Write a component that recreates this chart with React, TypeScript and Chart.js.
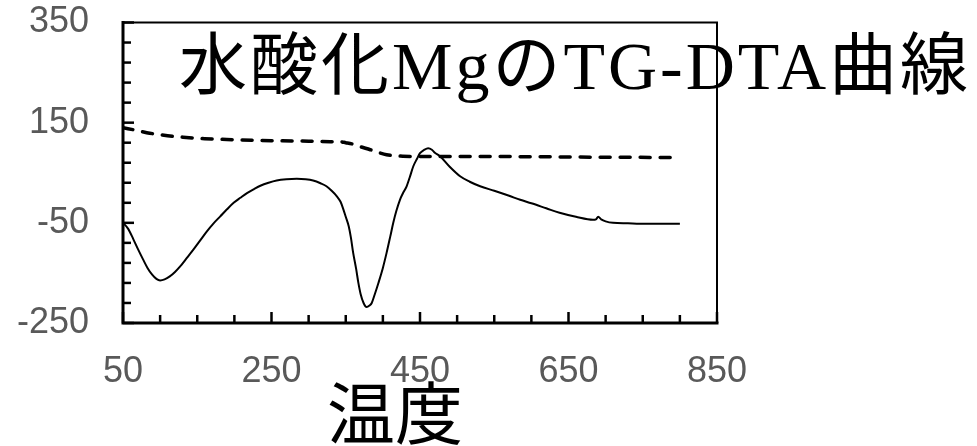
import React, { useEffect, useRef } from 'react';
import { Chart, registerables } from 'chart.js';

Chart.register(...registerables);

const chartTitle = '水酸化MgのTG-DTA曲線';
const xAxisTitle = '温度';
const xTickLabels = [50, 250, 450, 650, 850];
const yTickLabels = [-250, -50, 150, 350];

// DTA (solid line)
const dtaTemps = [50, 57, 64, 70, 77, 83, 89, 95, 100, 106, 113, 120, 127, 136, 145, 154, 163, 172, 181, 190, 199, 208, 217, 226, 235, 246, 257, 270, 284, 296, 306, 316, 324, 331, 338, 343, 347, 350, 354, 357, 360, 364, 367, 370, 374, 378, 382, 385, 389, 394, 400, 405, 410, 414, 418, 423, 427, 432, 436, 441, 446, 450, 456, 461, 466, 470, 477, 490, 504, 517, 531, 550, 570, 585, 600, 620, 638, 660, 683, 687, 690, 694, 700, 710, 730, 746, 770, 800];
const dtaValues = [-50, -62, -83, -102, -123, -140, -153, -162, -165, -163, -157, -148, -137, -120, -103, -85, -67, -51, -37, -23, -10, 0, 9.5, 17, 24, 30, 34.5, 37, 38, 37, 34.5, 29, 23, 14, 3, -8, -24, -38, -57, -80, -110, -142, -170, -192, -210, -218, -215, -210, -193, -170, -140, -110, -77, -50, -27, -4, 9, 23, 40, 63, 78, 89, 96, 99, 96, 90, 83, 62, 43, 32, 23, 14, 4, -4, -11, -21, -30, -38, -44, -43, -38, -43, -47, -50, -51, -52, -52, -52];

// TG (dashed line)
const tgTemps = [50, 70, 86, 110, 131, 160, 199, 250, 300, 329, 342, 350, 360, 370, 383, 395, 405, 415, 427, 450, 500, 550, 600, 700, 800];
const tgValues = [140, 134, 129, 124, 121, 118, 116, 114, 113, 112, 112, 110, 107, 102, 96, 90, 86, 84, 83, 82.5, 82.5, 82.5, 82, 81, 80.5];

const framePlugin = {
  id: 'frameAndTitles',
  afterDraw(chart: any) {
    const { ctx, chartArea: a, scales } = chart;
    const xs = scales.x;
    const ys = scales.y;
    ctx.save();
    ctx.strokeStyle = '#000';
    ctx.lineWidth = 2.5;
    for (let v = xs.min; v <= xs.max; v += 50) {
      const px = xs.getPixelForValue(v);
      const len = xTickLabels.includes(v) ? 11 : 8;
      ctx.beginPath();
      ctx.moveTo(px, a.bottom);
      ctx.lineTo(px, a.bottom - len);
      ctx.stroke();
    }
    for (let v = ys.min; v <= ys.max; v += 40) {
      const py = ys.getPixelForValue(v);
      const len = yTickLabels.includes(v) ? 11 : 8;
      ctx.beginPath();
      ctx.moveTo(a.left, py);
      ctx.lineTo(a.left + len, py);
      ctx.stroke();
    }
    // frame: top/right thinner, left/bottom heavier
    ctx.lineCap = 'square';
    ctx.lineWidth = 2;
    ctx.beginPath();
    ctx.moveTo(a.left, a.top);
    ctx.lineTo(a.right, a.top);
    ctx.lineTo(a.right, a.bottom);
    ctx.stroke();
    ctx.lineWidth = 3;
    ctx.beginPath();
    ctx.moveTo(a.left, a.top);
    ctx.lineTo(a.left, a.bottom);
    ctx.lineTo(a.right, a.bottom);
    ctx.stroke();

    ctx.fillStyle = '#000';
    ctx.textAlign = 'center';
    ctx.textBaseline = 'alphabetic';
    ctx.font = '68px "Liberation Serif", "Noto Sans CJK JP"';
    try { (ctx as any).letterSpacing = '3px'; } catch (e) {}
    ctx.fillText(chartTitle, 575, 89);
    try { (ctx as any).letterSpacing = '0px'; } catch (e) {}
    ctx.font = '68px "Noto Sans CJK JP"';
    ctx.fillText(xAxisTitle, 395, 439);
    ctx.restore();
  },
};

export default function App() {
  const canvasRef = useRef<HTMLCanvasElement | null>(null);

  useEffect(() => {
    if (!canvasRef.current) return;
    const tickFont = { family: '"Liberation Sans", Arial, sans-serif', size: 36 };
    const chart = new Chart(canvasRef.current, {
      type: 'line',
      data: {
        datasets: [
          {
            label: 'DTA',
            data: dtaTemps.map((t, i) => ({ x: t, y: dtaValues[i] })),
            borderColor: '#000',
            borderWidth: 2,
            pointRadius: 0,
            fill: false,
            cubicInterpolationMode: 'monotone',
          },
          {
            label: 'TG',
            data: tgTemps.map((t, i) => ({ x: t, y: tgValues[i] })),
            borderColor: '#000',
            borderWidth: 3.5,
            borderDash: [10, 10],
            borderCapStyle: 'round',
            pointRadius: 0,
            fill: false,
            cubicInterpolationMode: 'monotone',
          },
        ],
      },
      options: {
        animation: false,
        responsive: false,
        devicePixelRatio: 1,
        layout: { padding: { left: 17, right: 260, top: 22.5, bottom: 57 } },
        plugins: {
          legend: { display: false },
          tooltip: { enabled: false },
          title: { display: false },
        },
        scales: {
          x: {
            type: 'linear',
            min: 50,
            max: 850,
            grid: { display: false, drawTicks: false },
            border: { display: false },
            afterBuildTicks: (scale: any) => {
              scale.ticks = xTickLabels.map((v) => ({ value: v }));
            },
            afterFit: (scale: any) => {
              scale.height = 66;
              scale.paddingLeft = 0;
              scale.paddingRight = 0;
            },
            ticks: {
              font: tickFont,
              color: '#595959',
              padding: 27,
              maxRotation: 0,
              autoSkip: false,
              callback: (v: any) => String(v),
            },
          },
          y: {
            type: 'linear',
            min: -250,
            max: 350,
            grid: { display: false, drawTicks: false },
            border: { display: false },
            afterBuildTicks: (scale: any) => {
              scale.ticks = yTickLabels.map((v) => ({ value: v }));
            },
            afterFit: (scale: any) => {
              scale.width = 106;
              scale.paddingTop = 0;
              scale.paddingBottom = 0;
            },
            ticks: {
              font: tickFont,
              color: '#595959',
              padding: 34,
              autoSkip: false,
              callback: (v: any) => String(v),
            },
          },
        },
      },
      plugins: [framePlugin],
    });
    return () => chart.destroy();
  }, []);

  return (
    <div style={{ position: 'fixed', left: 0, top: 0, width: 977, height: 446, background: '#fff' }}>
      <canvas ref={canvasRef} width={977} height={446} style={{ display: 'block' }} />
    </div>
  );
}
